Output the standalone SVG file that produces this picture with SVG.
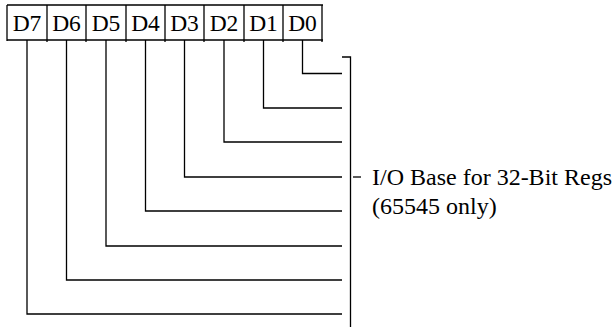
<svg xmlns="http://www.w3.org/2000/svg" width="616" height="327" viewBox="0 0 616 327">
<style>
.ln{fill:none;stroke:#000;stroke-width:1.3}
text{font-family:'Liberation Serif','Times New Roman',Times,'DejaVu Serif',serif;fill:#000}
.cell{font-size:23.5px;text-anchor:middle}
.lbl{font-size:24px}
</style>
<rect width="616" height="327" fill="#fff"/>
<g id="register">
<path class="ln" d="M7,5 H323 M7,40 H323 M7,5 V41 M47,5 V42 M86,5 V42 M126,5 V42 M165,5 V42 M204,5 V42 M244,5 V42 M283,5 V42 M322,5 V42"/>
<text class="cell" x="27" y="31">D7</text>
<text class="cell" x="66.5" y="31">D6</text>
<text class="cell" x="106" y="31">D5</text>
<text class="cell" x="145.5" y="31">D4</text>
<text class="cell" x="184.5" y="31">D3</text>
<text class="cell" x="224" y="31">D2</text>
<text class="cell" x="263.5" y="31">D1</text>
<text class="cell" x="302.5" y="31">D0</text>
</g>
<g id="connectors">
<path class="ln" d="M302.5,40 V73.5 H342"/>
<path class="ln" d="M263.5,40 V108 H342"/>
<path class="ln" d="M224,40 V142 H342"/>
<path class="ln" d="M184.5,40 V177 H342"/>
<path class="ln" d="M145.5,40 V211 H342"/>
<path class="ln" d="M106,40 V246 H342"/>
<path class="ln" d="M66.5,40 V280 H342"/>
<path class="ln" d="M27,40 V314 H342"/>
</g>
<g id="bracket">
<path class="ln" d="M342,57 H350.5 V327"/>
<path class="ln" d="M353,177 H361"/>
</g>
<g id="label">
<text class="lbl" x="372" y="185">I/O Base for 32-Bit Regs</text>
<text class="lbl" x="372" y="214">(65545 only)</text>
</g>
</svg>
